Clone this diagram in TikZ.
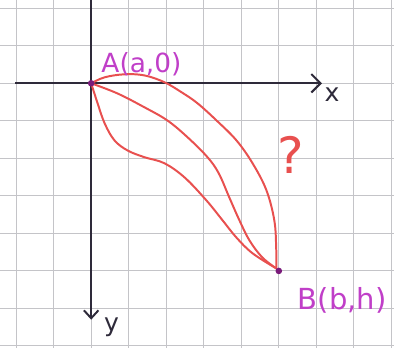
\documentclass[tikz,border=0pt]{standalone}
\usepackage{fontspec}
\usepackage{tikz}
\usetikzlibrary{arrows.meta,backgrounds}
\newfontfamily\handfont{DejaVu Sans}
\definecolor{cgrid}{HTML}{C4C4C8}
\definecolor{caxis}{HTML}{2E2A3A}
\definecolor{cred}{HTML}{E8504F}
\definecolor{cpurple}{HTML}{C03FC8}
\definecolor{cdot}{HTML}{7A1A7A}

\begin{document}
\begin{tikzpicture}[
      curve/.style={cred, line width=1.5pt, line cap=round},
      axis/.style={caxis, line width=1.5pt},
      pt/.style={circle, fill=cdot, inner sep=0pt, minimum size=5pt},
      lbl/.style={cpurple, font=\handfont\fontsize{20}{22}\selectfont}
    ]
    \useasboundingbox (-2.43,-7.05) rectangle (8.07,2.22);

    % points and labels
    \node[pt] (A) at (0,0) {};
    \node[pt] (B) at (5,-5) {};
    \node[lbl] (Alab) at (1.34,0.52) {A(a,0)};
    \node[lbl, font=\handfont\fontsize{22}{24}\selectfont] (Blab) at (6.69,-5.79) {B(b,h)};
    \node[cred, font=\handfont\fontsize{38}{40}\selectfont] (q) at (5.31,-1.9) {?};

    \begin{scope}[on background layer]
      \draw[cgrid, line width=0.8pt] (-2.43,-7.05) grid (8.07,2.22);

      % axes
      \coordinate (xl) at (-2.03,0);
      \coordinate (xr) at (6.15,0);
      \coordinate (yt) at (0,2.22);
      \coordinate (yb) at (0,-6.3);
      \draw[axis, -{Straight Barb[length=7pt,width=14pt]}] (xl) -- (xr);
      \draw[axis, -{Straight Barb[length=6pt,width=11pt]}] (yt) -- (yb);

      % curves
      \draw[curve] plot[smooth, tension=0.6] coordinates {(A.center) (0.36,0.16) (0.89,0.24) (1.42,0.21)
        (1.95,0.03) (2.41,-0.24) (2.83,-0.53) (3.34,-0.99) (3.87,-1.52) (4.3,-2.13) (4.67,-2.85)
        (4.88,-3.65) (4.93,-4.37) (B.135)};
      \draw[curve] plot[smooth, tension=0.6] coordinates {(A.center) (0.7,-0.27) (1.42,-0.64) (2.03,-0.99)
        (2.57,-1.44) (3.1,-1.97) (3.4,-2.4) (3.68,-3.04) (3.95,-3.65) (4.22,-4.19) (4.56,-4.64)
        (B.135)};
      \draw[curve] plot[smooth, tension=0.6] coordinates {(A.center) (0.17,-0.53) (0.36,-1.07) (0.62,-1.52)
        (0.97,-1.79) (1.42,-1.97) (1.95,-2.13) (2.49,-2.51) (3.07,-3.12) (3.5,-3.65) (3.87,-4.11)
        (4.3,-4.53) (B.135)};
    \end{scope}
    \node[caxis, font=\handfont\fontsize{19}{21}\selectfont] (xlab) at (6.42,-0.3) {x};
    \node[caxis, font=\handfont\fontsize{19}{21}\selectfont] (ylab) at (0.54,-6.5) {y};
  \end{tikzpicture}
\end{document}
